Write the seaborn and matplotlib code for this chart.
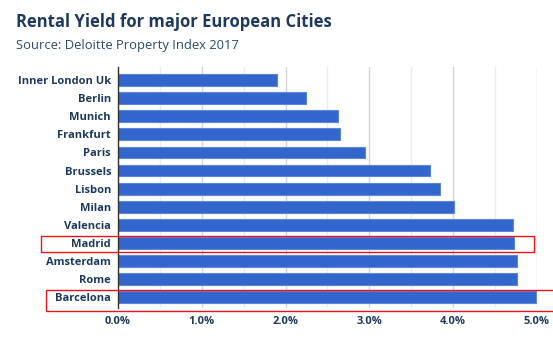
import matplotlib
matplotlib.use("Agg")
import matplotlib.pyplot as plt
import matplotlib.transforms as mtransforms
from matplotlib.patches import Rectangle
from matplotlib.ticker import MultipleLocator, FuncFormatter
import seaborn as sns
import pandas as pd

cities = ["Inner London Uk", "Berlin", "Munich", "Frankfurt", "Paris", "Brussels",
          "Lisbon", "Milan", "Valencia", "Madrid", "Amsterdam", "Rome", "Barcelona"]
yields = [1.90, 2.25, 2.63, 2.65, 2.95, 3.72, 3.84, 4.01, 4.72, 4.73, 4.76, 4.77, 4.99]
x_ticks = [0, 1, 2, 3, 4, 5]
highlighted = ["Madrid", "Barcelona"]

df = pd.DataFrame({"city": cities, "yield": yields})

sns.set_theme(style="white")
plt.rcParams["font.family"] = ["Open Sans", "DejaVu Sans"]

navy = "#1f3a5f"
fig = plt.figure(figsize=(5.53, 3.42), dpi=100)
ax = fig.add_axes([0.2135, 0.1, 0.757, 0.705])

sns.barplot(data=df, x="yield", y="city", order=cities, color="#3366cc",
            saturation=1, width=0.66, edgecolor="#5b86d9", linewidth=0.8, ax=ax)

ax.set_xlim(0, 5.0)
ax.set_ylim(12.6, -0.75)
ax.set_xticks(x_ticks)
ax.xaxis.set_minor_locator(MultipleLocator(0.5))
ax.xaxis.set_major_formatter(FuncFormatter(lambda v, p: f"{v:.1f}%"))
ax.grid(axis="x", which="major", color="#d4d4d4", linewidth=1)
ax.grid(axis="x", which="minor", color="#ececec", linewidth=1)
ax.set_axisbelow(True)
ax.set_xlabel("")
ax.set_ylabel("")
for s in ["top", "right", "bottom"]:
    ax.spines[s].set_visible(False)
ax.spines["left"].set_color("#333333")
ax.spines["left"].set_linewidth(1)
ax.tick_params(axis="both", which="both", length=0)
ax.tick_params(axis="y", pad=5)
ax.tick_params(axis="x", pad=6)
for lab in ax.get_yticklabels() + ax.get_xticklabels():
    lab.set_fontweight("bold")
    lab.set_fontsize(8)
    lab.set_color(navy)

# red highlight boxes around selected rows
trans = mtransforms.blended_transform_factory(ax.transData, ax.transData)
boxes = {"Madrid": (-0.92, 4.97, -0.4, 0.52), "Barcelona": (-0.86, 5.21, -0.38, 0.78)}
for name in highlighted:
    i = cities.index(name)
    x0, x1, dy0, dy1 = boxes[name]
    ax.add_patch(Rectangle((x0, i + dy0), x1 - x0, dy1 - dy0, fill=False,
                           edgecolor="#e8151b", linewidth=1, clip_on=False,
                           transform=trans, zorder=5))

fig.text(0.029, 0.937, "Rental Yield for major European Cities", fontsize=12,
         fontweight="bold", color=navy, va="center", ha="left")
fig.text(0.029, 0.868, "Source: Deloitte Property Index 2017", fontsize=9.4,
         color="#2b4c6f", va="center", ha="left")

fig.savefig("out.png", dpi=100)
